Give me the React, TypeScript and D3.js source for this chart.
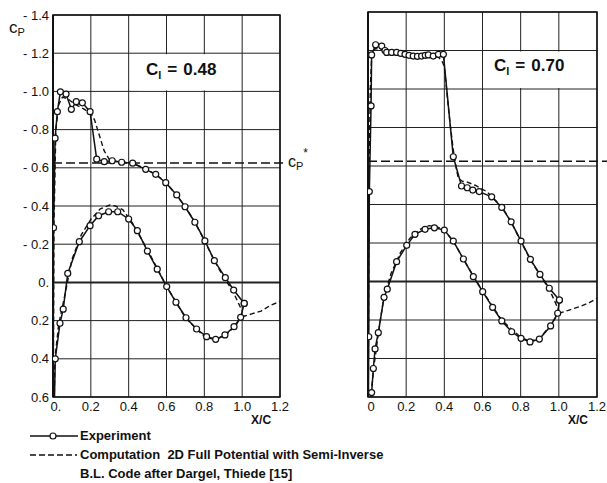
import React from "react";
import * as d3 from "d3";

// ---------- data: Cl = 0.48 ----------
const a_upExpX = [0.0, 0.003, 0.011, 0.023, 0.039, 0.069, 0.097, 0.123, 0.155, 0.196, 0.231, 0.271, 0.313, 0.363, 0.421, 0.49, 0.543, 0.596, 0.654, 0.698, 0.75, 0.803, 0.853, 0.911, 0.955, 1.011];
const a_upExpCp = [1.0, -0.286, -0.755, -0.894, -0.998, -0.986, -0.906, -0.946, -0.94, -0.894, -0.645, -0.632, -0.637, -0.629, -0.624, -0.592, -0.566, -0.522, -0.458, -0.396, -0.315, -0.217, -0.114, -0.025, 0.04, 0.11];
const a_loExpX = [0.0, 0.012, 0.037, 0.054, 0.078, 0.139, 0.196, 0.241, 0.294, 0.342, 0.4, 0.446, 0.499, 0.551, 0.601, 0.65, 0.703, 0.759, 0.812, 0.86, 0.909, 0.957, 0.992, 1.011];
const a_loExpCp = [1.0, 0.4, 0.214, 0.14, -0.047, -0.213, -0.297, -0.349, -0.37, -0.37, -0.332, -0.271, -0.164, -0.069, 0.022, 0.104, 0.185, 0.244, 0.284, 0.298, 0.275, 0.232, 0.183, 0.11];
const a_upCompX = [0.0, 0.005, 0.015, 0.03, 0.05, 0.08, 0.12, 0.16, 0.2, 0.22, 0.245, 0.27, 0.3, 0.35, 0.42, 0.49, 0.55, 0.6, 0.65, 0.7, 0.75, 0.8, 0.85, 0.9, 0.95, 1.0];
const a_upCompCp = [1.0, -0.3, -0.8, -0.93, -0.97, -0.96, -0.93, -0.91, -0.885, -0.85, -0.77, -0.69, -0.64, -0.63, -0.625, -0.595, -0.56, -0.52, -0.46, -0.395, -0.315, -0.22, -0.12, -0.03, 0.045, 0.15];
const a_loCompX = [0.0, 0.01, 0.03, 0.06, 0.1, 0.15, 0.2, 0.25, 0.3, 0.33, 0.37, 0.42, 0.5, 0.6, 0.7, 0.8, 0.86, 0.92, 0.97, 1.0];
const a_loCompCp = [1.0, 0.4, 0.22, 0.08, -0.12, -0.25, -0.33, -0.385, -0.405, -0.4, -0.38, -0.31, -0.17, 0.02, 0.185, 0.285, 0.3, 0.27, 0.22, 0.17];
const a_wakeX = [1.0, 1.05, 1.1, 1.15, 1.2];
const a_wakeCp = [0.18, 0.165, 0.15, 0.12, 0.1];

// ---------- data: Cl = 0.70 ----------
const b_upExpX = [0.0, 0.004, 0.007, 0.016, 0.019, 0.04, 0.072, 0.089, 0.098, 0.124, 0.15, 0.172, 0.194, 0.215, 0.237, 0.259, 0.281, 0.3, 0.316, 0.342, 0.369, 0.395, 0.447, 0.49, 0.52, 0.549, 0.583, 0.648, 0.701, 0.75, 0.802, 0.851, 0.901, 0.95, 1.003];
const b_upExpCp = [1.0, 0.287, -0.467, -0.912, -1.177, -1.23, -1.223, -1.2, -1.19, -1.19, -1.19, -1.185, -1.18, -1.175, -1.171, -1.17, -1.171, -1.175, -1.177, -1.171, -1.18, -1.18, -0.648, -0.496, -0.487, -0.475, -0.467, -0.44, -0.385, -0.31, -0.21, -0.115, -0.037, 0.035, 0.096];
const b_loExpX = [0.0, 0.019, 0.028, 0.037, 0.054, 0.084, 0.101, 0.15, 0.203, 0.246, 0.299, 0.348, 0.4, 0.447, 0.5, 0.552, 0.601, 0.653, 0.701, 0.753, 0.802, 0.849, 0.898, 0.957, 0.994, 1.003];
const b_loExpCp = [1.0, 0.577, 0.452, 0.35, 0.266, 0.082, 0.04, -0.103, -0.188, -0.245, -0.271, -0.279, -0.267, -0.21, -0.117, -0.025, 0.053, 0.134, 0.205, 0.261, 0.295, 0.314, 0.299, 0.231, 0.165, 0.096];
const b_upCompX = [0.0, 0.005, 0.012, 0.02, 0.04, 0.08, 0.15, 0.25, 0.33, 0.37, 0.39, 0.4, 0.412, 0.43, 0.447, 0.46, 0.473, 0.495, 0.517, 0.561, 0.622, 0.7, 0.75, 0.8, 0.85, 0.9, 0.95, 1.0];
const b_upCompCp = [1.0, -0.5, -1.0, -1.19, -1.21, -1.2, -1.19, -1.18, -1.175, -1.165, -1.14, -1.116, -0.995, -0.82, -0.683, -0.6, -0.536, -0.52, -0.518, -0.5, -0.467, -0.39, -0.31, -0.21, -0.115, -0.035, 0.04, 0.15];
const b_loCompX = [0.0, 0.015, 0.03, 0.05, 0.08, 0.12, 0.17, 0.22, 0.27, 0.32, 0.36, 0.4, 0.45, 0.5, 0.6, 0.7, 0.8, 0.85, 0.9, 0.95, 1.0];
const b_loCompCp = [1.0, 0.6, 0.45, 0.3, 0.1, -0.04, -0.15, -0.225, -0.27, -0.29, -0.285, -0.265, -0.205, -0.115, 0.05, 0.2, 0.29, 0.31, 0.295, 0.235, 0.165];
const b_wakeX = [1.0, 1.05, 1.11, 1.16, 1.2];
const b_wakeCp = [0.165, 0.15, 0.13, 0.11, 0.087];

const cpStar = -0.625;
const xDomain = [0, 1.2];
const cpDomain = [-1.4, 0.6];
const xTickLabelsA = ["0.", "0.2", "0.4", "0.6", "0.8", "1.0", "1.2"];
const xTickLabelsB = ["0", "0.2", "0.4", "0.6", "0.8", "1.0", "1.2"];
const legendItems = ["Experiment", "Computation  2D Full Potential with Semi-Inverse", "B.L. Code after Dargel, Thiede [15]"];

const FONT = "'Liberation Sans Narrow', 'Liberation Sans', Arial, sans-serif";
const BOLD = "'Liberation Sans', Arial, sans-serif";

type Pt = [number, number];
const zip = (xs: number[], ys: number[]): Pt[] => xs.map((x, i) => [x, ys[i]]);

interface PanelProps {
  id: string;
  x0: number; x1: number; y0: number; y1: number;
  upExp: Pt[]; loExp: Pt[]; upComp: Pt[]; loComp: Pt[]; wake: Pt[];
  yLabels: boolean;
  xLabels: string[];
  clLabel: string;
  boxX: [number, number];
  clPos: [number, number];
  starExtend: number;
}

function Panel(p: PanelProps) {
  const xs = d3.scaleLinear().domain(xDomain).range([p.x0, p.x1]);
  const ys = d3.scaleLinear().domain(cpDomain).range([p.y0, p.y1]);
  const line = d3.line<Pt>().x(d => xs(d[0])).y(d => ys(d[1]));
  const xt = d3.range(0, 7).map(i => i * 0.2);
  const yt = d3.range(0, 11).map(i => -1.4 + i * 0.2);
  const fmtY = (v: number) => {
    const r = Math.round(v * 10) / 10;
    if (Math.abs(r) < 1e-9) return "0.";
    return r < 0 ? "- " + Math.abs(r).toFixed(1) : r.toFixed(1);
  };
  const clip = `clip-${p.id}`;
  return (
    <g>
      <defs>
        <clipPath id={clip}>
          <rect x={p.x0} y={p.y0} width={p.x1 - p.x0} height={p.y1 - p.y0} />
        </clipPath>
      </defs>
      {xt.map((v, i) => (
        <line key={"gx" + i} x1={xs(v)} x2={xs(v)} y1={p.y0} y2={p.y1} stroke="#222" strokeWidth={1} />
      ))}
      {yt.map((v, i) => (
        <line key={"gy" + i} x1={p.x0} x2={p.x1} y1={ys(v)} y2={ys(v)} stroke="#222" strokeWidth={Math.abs(v) < 1e-9 ? 2 : 1} />
      ))}
      <rect x={xs(p.boxX[0])} y={ys(-1.2) + 1} width={xs(p.boxX[1]) - xs(p.boxX[0])} height={ys(-1.0) - ys(-1.2) - 2} fill="#fff" />
      <rect x={p.x0} y={p.y0} width={p.x1 - p.x0} height={p.y1 - p.y0} fill="none" stroke="#111" strokeWidth={1.5} />
      <line x1={p.x0} x2={p.x0} y1={p.y0} y2={p.y1} stroke="#111" strokeWidth={2} />
      <line x1={p.x0} x2={p.starExtend} y1={ys(cpStar)} y2={ys(cpStar)} stroke="#111" strokeWidth={1.6} strokeDasharray="9,4" />
      <g clipPath={`url(#${clip})`}>
        {[p.upComp, p.loComp, p.wake].map((d, i) => (
          <path key={"c" + i} d={line(d) || ""} fill="none" stroke="#111" strokeWidth={1.4} strokeDasharray="5,3" />
        ))}
        {[p.upExp, p.loExp].map((d, i) => (
          <path key={"e" + i} d={line(d) || ""} fill="none" stroke="#111" strokeWidth={1.5} />
        ))}
        {[...p.upExp, ...p.loExp].map((d, i) => (
          <circle key={"m" + i} cx={xs(d[0])} cy={ys(d[1])} r={3} fill="#fff" stroke="#111" strokeWidth={1.2} />
        ))}
      </g>
      {p.yLabels && yt.map((v, i) => (
        <text key={"yl" + i} x={p.x0 - 4} y={ys(v)} dy="0.35em" textAnchor="end" fontSize={13} fontFamily={FONT} fill="#111">{fmtY(v)}</text>
      ))}
      {xt.map((v, i) => (
        <text key={"xl" + i} x={xs(v) + (i === 0 ? 3 : 0)} y={p.y1 + 14} textAnchor="middle" fontSize={13} fontFamily={FONT} fill="#111">{p.xLabels[i]}</text>
      ))}
      <text x={(xs(1.0) + xs(1.2)) / 2} y={p.y1 + 27} textAnchor="middle" fontSize={12} fontWeight="bold" fontFamily={BOLD} fill="#111">X/C</text>
      <text x={p.clPos[0]} y={p.clPos[1]} fontSize={17} fontWeight="bold" fontFamily={BOLD} fill="#111">
        C<tspan fontSize={11} dy={4}>l</tspan><tspan dy={-4} dx={6}>=</tspan><tspan dx={6}>{p.clLabel}</tspan>
      </text>
    </g>
  );
}

export default function App() {
  return (
    <svg width={607} height={483} style={{ position: "absolute", left: 0, top: 0, background: "#fff" }}>
      <rect x={0} y={0} width={607} height={483} fill="#fff" />
      <Panel id="a" x0={53} x1={280} y0={15} y1={397}
        upExp={zip(a_upExpX, a_upExpCp)} loExp={zip(a_loExpX, a_loExpCp)}
        upComp={zip(a_upCompX, a_upCompCp)} loComp={zip(a_loCompX, a_loCompCp)} wake={zip(a_wakeX, a_wakeCp)}
        yLabels={true} xLabels={xTickLabelsA} clLabel="0.48" boxX={[0.45, 0.95]} clPos={[146, 75]} starExtend={286} />
      <Panel id="b" x0={368} x1={597} y0={12} y1={397}
        upExp={zip(b_upExpX, b_upExpCp)} loExp={zip(b_loExpX, b_loExpCp)}
        upComp={zip(b_upCompX, b_upCompCp)} loComp={zip(b_loCompX, b_loCompCp)} wake={zip(b_wakeX, b_wakeCp)}
        yLabels={false} xLabels={xTickLabelsB} clLabel="0.70" boxX={[0.65, 1.19]} clPos={[494, 71]} starExtend={607} />
      {/* c_P axis title */}
      <text x={9} y={33} fontSize={17} fontFamily={BOLD} fill="#111">c<tspan fontSize={11} dy={3}>P</tspan></text>
      {/* c_P* label */}
      <text x={288} y={167} fontSize={16} fontFamily={BOLD} fill="#111">c<tspan fontSize={11} dy={3}>P</tspan><tspan fontSize={12} dy={-13}>*</tspan></text>
      {/* legend */}
      <line x1={30} x2={78} y1={436} y2={436} stroke="#111" strokeWidth={1.5} />
      <circle cx={53} cy={436} r={3} fill="#fff" stroke="#111" strokeWidth={1.2} />
      <line x1={30} x2={77} y1={455} y2={455} stroke="#111" strokeWidth={1.3} strokeDasharray="6,3" />
      {legendItems.map((t, i) => (
        <text key={"lg" + i} x={80} y={440 + i * 19} fontSize={13} fontWeight="bold" fontFamily={BOLD} fill="#111" style={{ whiteSpace: "pre" }}>{t}</text>
      ))}
    </svg>
  );
}
